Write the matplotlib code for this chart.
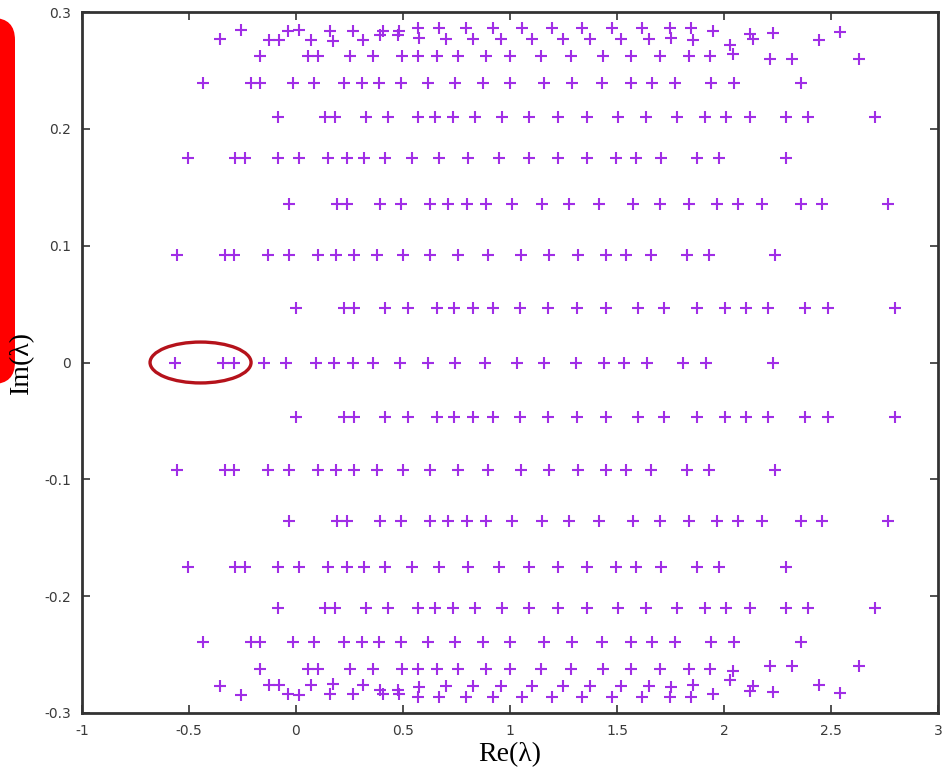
import numpy as np
import matplotlib.pyplot as plt
from matplotlib.patches import Ellipse, FancyBboxPatch

# Eigenvalues in the upper half plane (Im >= 0); the lower half holds the conjugates.
# Rows of nearly constant imaginary part
re_row_000 = [-0.565, -0.343, -0.290, -0.148, -0.047, 0.093, 0.178, 0.265, 0.358, 0.486,
              0.615, 0.743, 0.883, 1.031, 1.160, 1.308, 1.441, 1.534, 1.639, 1.807, 1.916, 2.228]
re_row_047 = [0.000, 0.226, 0.271, 0.416, 0.525, 0.657, 0.738, 0.826, 0.922, 1.047, 1.179,
              1.312, 1.449, 1.600, 1.721, 1.872, 2.005, 2.103, 2.204, 2.379, 2.485, 2.799]
re_row_092 = [-0.555, -0.332, -0.290, -0.132, -0.031, 0.101, 0.187, 0.273, 0.377, 0.498,
              0.626, 0.759, 0.899, 1.050, 1.182, 1.316, 1.449, 1.542, 1.657, 1.829, 1.931, 2.238]
re_row_136 = [-0.031, 0.193, 0.237, 0.393, 0.489, 0.626, 0.712, 0.798, 0.888, 1.010, 1.148,
              1.277, 1.417, 1.573, 1.701, 1.838, 1.969, 2.064, 2.179, 2.360, 2.456, 2.768]
re_row_175 = [-0.506, -0.283, -0.238, -0.083, 0.014, 0.151, 0.237, 0.319, 0.416, 0.544,
              0.670, 0.802, 0.950, 1.090, 1.223, 1.361, 1.494, 1.589, 1.706, 1.875, 1.977, 2.288]
re_row_210 = [-0.086, 0.136, 0.182, 0.327, 0.431, 0.572, 0.650, 0.735, 0.836, 0.961, 1.090,
              1.223, 1.361, 1.506, 1.636, 1.779, 1.911, 2.009, 2.121, 2.290, 2.394, 2.706]
re_row_239 = [-0.436, -0.212, -0.168, -0.016, 0.084, 0.226, 0.307, 0.389, 0.489, 0.615,
              0.743, 0.872, 1.000, 1.159, 1.291, 1.431, 1.565, 1.662, 1.771, 1.938, 2.047, 2.360]
re_row_262 = [-0.168, 0.057, 0.104, 0.252, 0.358, 0.494, 0.571, 0.657, 0.758, 0.888, 1.000,
              1.145, 1.284, 1.433, 1.565, 1.701, 1.838, 1.935, 2.043, 2.215, 2.316, 2.631]
im_row_262 = [0.262, 0.262, 0.262, 0.262, 0.262, 0.262, 0.262, 0.262, 0.262, 0.262, 0.262,
              0.262, 0.262, 0.262, 0.262, 0.262, 0.262, 0.262, 0.264, 0.260, 0.260, 0.260]

rows = [
    (re_row_000, 0.000),
    (re_row_047, 0.047),
    (re_row_092, 0.092),
    (re_row_136, 0.136),
    (re_row_175, 0.175),
    (re_row_210, 0.210),
    (re_row_239, 0.239),
]

# Top cluster near the upper edge
re_top = [-0.355, -0.258, -0.125, -0.079, -0.036, 0.014, 0.069, 0.159, 0.171, 0.268, 0.312,
          0.405, 0.393, 0.483, 0.478, 0.571, 0.576, 0.670, 0.701, 0.794, 0.829, 0.922, 0.958,
          1.055, 1.101, 1.195, 1.249, 1.335, 1.374, 1.475, 1.517, 1.615, 1.651, 1.748, 1.751,
          1.844, 1.857, 1.947, 2.028, 2.121, 2.137, 2.228, 2.445, 2.542]
im_top = [0.277, 0.285, 0.276, 0.276, 0.284, 0.285, 0.276, 0.284, 0.275, 0.284, 0.276,
          0.284, 0.280, 0.284, 0.280, 0.286, 0.278, 0.286, 0.277, 0.286, 0.277, 0.286, 0.277,
          0.286, 0.277, 0.286, 0.277, 0.286, 0.277, 0.286, 0.277, 0.286, 0.277, 0.286, 0.278,
          0.286, 0.276, 0.284, 0.272, 0.281, 0.277, 0.282, 0.276, 0.283]

re_up = []
im_up = []
for xs, y in rows:
    re_up += xs
    im_up += [y] * len(xs)
re_up += re_row_262 + re_top
im_up += im_row_262 + im_top
re_up = np.array(re_up)
im_up = np.array(im_up)

pos = im_up > 0
re_all = np.concatenate([re_up, re_up[pos]])
im_all = np.concatenate([im_up, -im_up[pos]])

W, H = 943, 771
fig = plt.figure(figsize=(W / 100, H / 100), dpi=100)
ax = fig.add_axes([82 / W, 58 / H, (938 - 82) / W, (713 - 12) / H])

ax.plot(re_all, im_all, '+', color='#a02ee6', ms=8.5, mew=1.5, ls='none')

ax.set_xlim(-1, 3)
ax.set_ylim(-0.3, 0.3)
ax.set_xticks(np.arange(-1, 3.01, 0.5))
ax.set_xticklabels(['-1', '-0.5', '0', '0.5', '1', '1.5', '2', '2.5', '3'])
ax.set_yticks(np.arange(-0.3, 0.301, 0.1))
ax.set_yticklabels(['-0.3', '-0.2', '-0.1', '0', '0.1', '0.2', '0.3'])
ax.tick_params(direction='in', top=True, right=True, length=6, width=1.2,
               labelsize=10, labelcolor='#3a3a3a', color='#333333', pad=8)
for s in ax.spines.values():
    s.set_linewidth(2)
    s.set_color('#333333')

# highlight around the real eigenvalues on the far left
ax.add_patch(Ellipse((-0.446, 0.0), width=0.472, height=0.035, fill=False,
                     ec='#b5121b', lw=2.4, zorder=5))

serif = ['Liberation Serif', 'DejaVu Serif']
fig.text(510 / W, 1 - 755 / H, 'Re(λ)', ha='center', va='center', fontsize=20, family=serif)
fig.text(22 / W, 1 - 363 / H, 'Im(λ)', ha='center', va='center', rotation=90,
         fontsize=20, family=serif)

# red marker bar on the left edge, drawn in pixel units
ov = fig.add_axes([0, 0, 1, 1], facecolor='none')
ov.set_xlim(0, W)
ov.set_ylim(H, 0)
ov.axis('off')
ov.add_patch(FancyBboxPatch((-40, 18), 55, 366, boxstyle='round,pad=0,rounding_size=22',
                            fc='#ff0000', ec='none'))

fig.savefig('out.png', dpi=100)
